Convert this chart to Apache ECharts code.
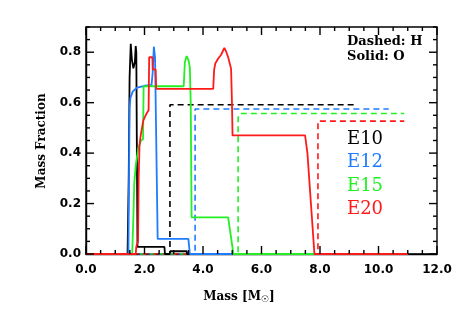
<!DOCTYPE html>
<html><head><meta charset="utf-8">
<script src="https://cdn.jsdelivr.net/npm/echarts@6/dist/echarts.min.js"></script>
<style>html,body{margin:0;padding:0;background:#fff}#c{width:463px;height:309px}</style>
</head><body><div id="c"></div>
<script>
// ---- data (mass in solar masses, mass fraction) ----
const xTicks = [0, 2, 4, 6, 8, 10, 12];
const yTicks = [0, 0.2, 0.4, 0.6, 0.8];
const xMinorTicks = [0, 0.5, 1, 1.5, 2, 2.5, 3, 3.5, 4, 4.5, 5, 5.5, 6, 6.5, 7, 7.5, 8, 8.5, 9, 9.5, 10, 10.5, 11, 11.5, 12];
const yMinorTicks = [0, 0.05, 0.1, 0.15, 0.2, 0.25, 0.3, 0.35, 0.4, 0.45, 0.5, 0.55, 0.6, 0.65, 0.7, 0.75, 0.8, 0.85, 0.9];
const models = ['E10', 'E12', 'E15', 'E20'];
const colors = ['#000000', '#1e7cff', '#22f022', '#ff1a1a'];

// Solid: oxygen
const e10O_m = [0, 1.42, 1.46, 1.49, 1.53, 1.57, 1.62, 1.67, 1.70, 1.72, 1.74, 1.76, 2.68, 2.70, 2.86, 2.88, 3.44, 3.46, 9.3];
const e10O_f = [0, 0, 0.3, 0.7, 0.833, 0.77, 0.736, 0.76, 0.824, 0.80, 0.4, 0.028, 0.028, 0, 0, 0.011, 0.011, 0, 0];
const e12O_m = [0, 1.45, 1.47, 1.49, 1.52, 1.60, 1.75, 2.0, 2.24, 2.28, 2.32, 2.36, 2.42, 2.45, 3.50, 3.55, 5.0];
const e12O_f = [0, 0, 0.3, 0.58, 0.62, 0.645, 0.66, 0.667, 0.67, 0.72, 0.822, 0.78, 0.3, 0.06, 0.06, 0, 0];
const e15O_m = [0, 1.58, 1.62, 1.65, 1.71, 1.79, 1.88, 1.95, 1.97, 3.34, 3.38, 3.44, 3.50, 3.55, 3.58, 3.61, 4.86, 5.04, 11.0];
const e15O_f = [0, 0, 0.15, 0.28, 0.36, 0.42, 0.45, 0.455, 0.665, 0.665, 0.76, 0.785, 0.77, 0.74, 0.6, 0.145, 0.145, 0, 0];
const e20O_m = [0, 1.70, 1.72, 1.78, 1.80, 1.83, 1.87, 1.96, 2.06, 2.14, 2.16, 2.20, 2.27, 2.28, 2.38, 2.40, 4.35, 4.38, 4.42, 4.52, 4.62, 4.73, 4.80, 4.86, 4.96, 4.99, 5.01, 7.49, 7.57, 7.81, 11.0];
const e20O_f = [0, 0, 0.03, 0.05, 0.3, 0.43, 0.47, 0.53, 0.555, 0.57, 0.78, 0.785, 0.78, 0.732, 0.732, 0.655, 0.655, 0.73, 0.755, 0.775, 0.79, 0.817, 0.80, 0.78, 0.735, 0.6, 0.47, 0.47, 0.4, 0, 0];

// Dashed: hydrogen
const e10H_m = [1.4, 2.87, 2.87, 9.23];
const e10H_f = [0, 0, 0.592, 0.592];
const e12H_m = [1.45, 3.73, 3.73, 10.35];
const e12H_f = [0, 0, 0.575, 0.575];
const e15H_m = [1.5, 5.20, 5.20, 5.26, 10.88];
const e15H_f = [0, 0, 0.54, 0.557, 0.557];
const e20H_m = [1.6, 7.93, 7.93, 10.88];
const e20H_f = [0, 0, 0.527, 0.527];

function pairs(xs, ys) { return xs.map((x, i) => [x, ys[i]]); }

const X0 = xTicks[0], X1 = xTicks[xTicks.length - 1];
const Y0 = 0, Y1 = 0.9;

const solids = [[e10O_m, e10O_f], [e12O_m, e12O_f], [e15O_m, e15O_f], [e20O_m, e20O_f]];
const dashes = [[e10H_m, e10H_f], [e12H_m, e12H_f], [e15H_m, e15H_f], [e20H_m, e20H_f]];

const series = [];
dashes.forEach((d, i) => series.push({
  type: 'line', data: pairs(d[0], d[1]), showSymbol: false,
  lineStyle: { color: colors[i], width: 1.6, type: [6, 4] }
}));
solids.forEach((d, i) => series.push({
  type: 'line', data: pairs(d[0], d[1]), showSymbol: false,
  lineStyle: { color: colors[i], width: 1.8 }
}));

// tick marks on all four sides, placed through the axes' own scales
const tickStyle = { stroke: '#000', lineWidth: 1.4 };
function isMajor(v, step) { return Math.abs(v / step - Math.round(v / step)) < 1e-6; }
series.push({
  type: 'custom', clip: false, silent: true, z: 5,
  data: xMinorTicks.map(v => [v, Y0]),
  renderItem: function (params, api) {
    const v = api.value(0);
    const len = isMajor(v, 2) ? 8 : 4;
    const pb = api.coord([v, Y0]), pt = api.coord([v, Y1]);
    return { type: 'group', children: [
      { type: 'line', shape: { x1: pb[0], y1: pb[1], x2: pb[0], y2: pb[1] - len }, style: tickStyle },
      { type: 'line', shape: { x1: pt[0], y1: pt[1], x2: pt[0], y2: pt[1] + len }, style: tickStyle }
    ] };
  }
});
series.push({
  type: 'custom', clip: false, silent: true, z: 5,
  data: yMinorTicks.map(v => [X0, v]),
  renderItem: function (params, api) {
    const v = api.value(1);
    const len = isMajor(v, 0.2) ? 8 : 4;
    const pl = api.coord([X0, v]), pr = api.coord([X1, v]);
    return { type: 'group', children: [
      { type: 'line', shape: { x1: pl[0], y1: pl[1], x2: pl[0] + len, y2: pl[1] }, style: tickStyle },
      { type: 'line', shape: { x1: pr[0], y1: pr[1], x2: pr[0] - len, y2: pr[1] }, style: tickStyle }
    ] };
  }
});

const labelFont = { fontFamily: 'DejaVu Sans', fontWeight: 'bold', fontSize: 12, color: '#000' };

const chart = echarts.init(document.getElementById('c'), null, { renderer: 'canvas' });
chart.setOption({
  animation: false,
  grid: { left: 86, top: 27, right: 26, bottom: 55, show: true, borderColor: '#000', borderWidth: 1.4, backgroundColor: 'transparent' },
  xAxis: { type: 'value', min: X0, max: X1, interval: 2,
    axisLine: { show: true, onZero: false, lineStyle: { color: '#000', width: 1.4 } },
    axisTick: { show: false }, splitLine: { show: false },
    axisLabel: Object.assign({ margin: 10, formatter: v => v.toFixed(1) }, labelFont) },
  yAxis: { type: 'value', min: Y0, max: Y1, interval: 0.2,
    axisLine: { show: true, onZero: false, lineStyle: { color: '#000', width: 1.4 } },
    axisTick: { show: false }, splitLine: { show: false },
    axisLabel: Object.assign({ margin: 5, showMaxLabel: false, formatter: v => v.toFixed(1) }, labelFont) },
  series: series,
  graphic: [
    { type: 'text', x: 261, y: 297, style: { text: 'Mass [M', font: 'bold 12px "DejaVu Serif"', fill: '#000', align: 'right', verticalAlign: 'middle' } },
    { type: 'text', x: 261, y: 300, style: { text: '☉', font: 'bold 9px "DejaVu Sans"', fill: '#000', align: 'left', verticalAlign: 'middle' } },
    { type: 'text', x: 269, y: 297, style: { text: ']', font: 'bold 12px "DejaVu Serif"', fill: '#000', align: 'left', verticalAlign: 'middle' } },
    { type: 'text', x: 42, y: 141, rotation: Math.PI / 2, style: { text: 'Mass Fraction', font: 'bold 12px "DejaVu Serif"', fill: '#000', align: 'center', verticalAlign: 'middle' } },
    { type: 'text', left: 347, top: 35, style: { text: 'Dashed: H', font: 'bold 13px "DejaVu Serif"', fill: '#000' } },
    { type: 'text', left: 347, top: 50, style: { text: 'Solid: O', font: 'bold 13px "DejaVu Serif"', fill: '#000' } }
  ].concat(models.map((m, i) => ({
    type: 'text', left: 347, top: 130 + i * 23.5, style: { text: m, font: '18px "DejaVu Serif"', fill: colors[i] }
  })))
});
</script></body></html>
